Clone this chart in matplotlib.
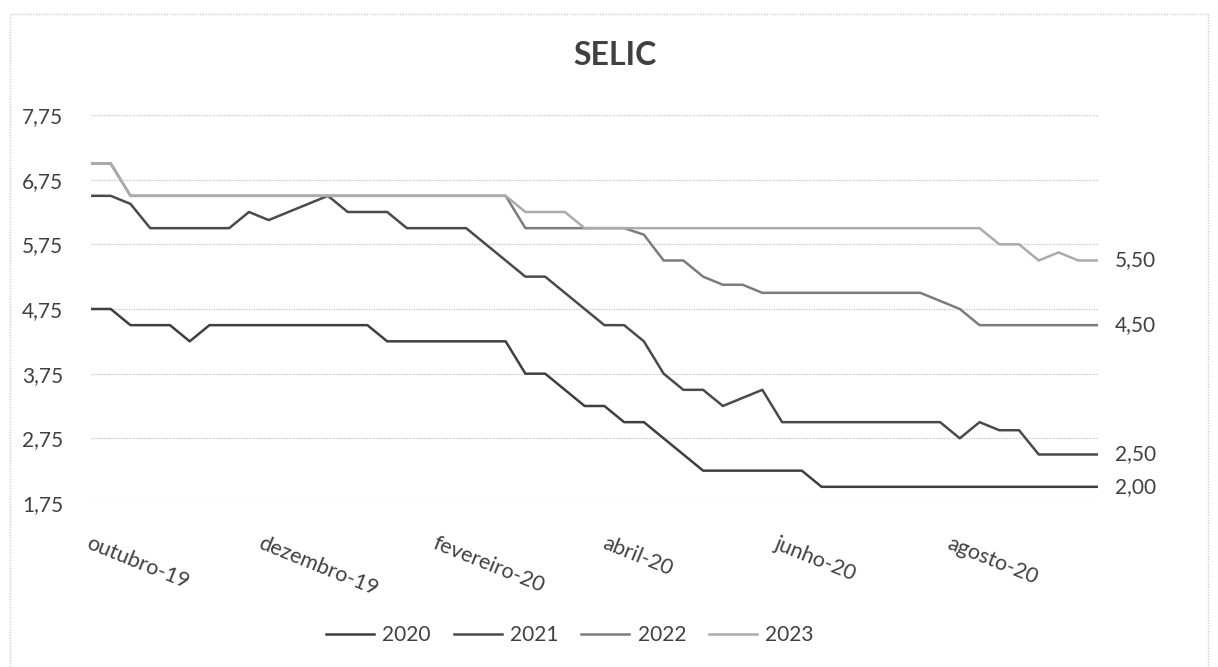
import matplotlib.pyplot as plt
import pandas as pd
from matplotlib.patches import Rectangle

# Expectativa da Selic ao fim de cada ano, coletada semanalmente
dates = pd.date_range('2019-10-04', '2020-09-25', freq='7D')

selic_2020 = [4.75, 4.75, 4.5, 4.5, 4.5, 4.25, 4.5, 4.5, 4.5, 4.5,
              4.5, 4.5, 4.5, 4.5, 4.5, 4.25, 4.25, 4.25, 4.25, 4.25,
              4.25, 4.25, 3.75, 3.75, 3.5, 3.25, 3.25, 3.0, 3.0, 2.75,
              2.5, 2.25, 2.25, 2.25, 2.25, 2.25, 2.25, 2.0, 2.0, 2.0,
              2.0, 2.0, 2.0, 2.0, 2.0, 2.0, 2.0, 2.0, 2.0, 2.0,
              2.0, 2.0]
selic_2021 = [6.5, 6.5, 6.375, 6.0, 6.0, 6.0, 6.0, 6.0, 6.25, 6.125,
              6.25, 6.375, 6.5, 6.25, 6.25, 6.25, 6.0, 6.0, 6.0, 6.0,
              5.75, 5.5, 5.25, 5.25, 5.0, 4.75, 4.5, 4.5, 4.25, 3.75,
              3.5, 3.5, 3.25, 3.375, 3.5, 3.0, 3.0, 3.0, 3.0, 3.0,
              3.0, 3.0, 3.0, 3.0, 2.75, 3.0, 2.875, 2.875, 2.5, 2.5,
              2.5, 2.5]
selic_2022 = [7.0, 7.0, 6.5, 6.5, 6.5, 6.5, 6.5, 6.5, 6.5, 6.5,
              6.5, 6.5, 6.5, 6.5, 6.5, 6.5, 6.5, 6.5, 6.5, 6.5,
              6.5, 6.5, 6.0, 6.0, 6.0, 6.0, 6.0, 6.0, 5.9, 5.5,
              5.5, 5.25, 5.125, 5.125, 5.0, 5.0, 5.0, 5.0, 5.0, 5.0,
              5.0, 5.0, 5.0, 4.875, 4.75, 4.5, 4.5, 4.5, 4.5, 4.5,
              4.5, 4.5]
selic_2023 = [7.0, 7.0, 6.5, 6.5, 6.5, 6.5, 6.5, 6.5, 6.5, 6.5,
              6.5, 6.5, 6.5, 6.5, 6.5, 6.5, 6.5, 6.5, 6.5, 6.5,
              6.5, 6.5, 6.25, 6.25, 6.25, 6.0, 6.0, 6.0, 6.0, 6.0,
              6.0, 6.0, 6.0, 6.0, 6.0, 6.0, 6.0, 6.0, 6.0, 6.0,
              6.0, 6.0, 6.0, 6.0, 6.0, 6.0, 5.75, 5.75, 5.5, 5.625,
              5.5, 5.5]

series = {'2020': selic_2020, '2021': selic_2021,
          '2022': selic_2022, '2023': selic_2023}
colors = {'2020': '#3f3f3f', '2021': '#4a4a4a',
          '2022': '#7c7c7c', '2023': '#ababab'}

y_ticks = [1.75, 2.75, 3.75, 4.75, 5.75, 6.75, 7.75]
month_names = ['janeiro', 'fevereiro', 'março', 'abril', 'maio', 'junho',
               'julho', 'agosto', 'setembro', 'outubro', 'novembro', 'dezembro']

plt.rcParams['font.family'] = ['Lato', 'DejaVu Sans']
text_color = '#404040'

fig = plt.figure(figsize=(12.18, 6.67), dpi=100)
ax = fig.add_axes([0.0747, 0.2459, 0.8268, 0.5817])

for year, vals in series.items():
    ax.plot(dates, vals, color=colors[year], lw=1.8, label=year)
    ax.text(dates[-1] + pd.Timedelta(days=6), vals[-1],
            f'{vals[-1]:.2f}'.replace('.', ','),
            fontsize=15, color=text_color, va='center', ha='left')

ax.set_ylim(1.75, 7.75)
ax.set_xlim(dates[0], dates[-1])
ax.set_yticks(y_ticks)
ax.set_yticklabels([f'{v:.2f}'.replace('.', ',') for v in y_ticks])

# rótulos a cada dois meses, a partir da primeira coleta
tick_dates = [dates[0] + pd.DateOffset(months=2 * k) for k in range(6)]
ax.set_xticks(tick_dates)
ax.set_xticklabels([f'{month_names[d.month - 1]}-{d.strftime("%y")}' for d in tick_dates])

ax.grid(axis='y', color='#c4c4c4', lw=0.9, ls=(0, (1, 1)))
ax.set_axisbelow(True)
for s in ax.spines.values():
    s.set_visible(False)
ax.tick_params(axis='both', length=0, labelsize=15, colors=text_color)
ax.tick_params(axis='y', pad=20)
ax.tick_params(axis='x', pad=22)
plt.setp(ax.get_xticklabels(), rotation=-22, ha='left', va='top',
         rotation_mode='anchor', fontsize=15.5)

fig.text(0.505, 0.917, 'SELIC', ha='center', va='center', fontsize=23,
         fontweight='bold', color='#404040')

fig.legend(loc='center', bbox_to_anchor=(0.468, 0.048), ncol=4, frameon=False,
           fontsize=15, handlelength=2.3, handletextpad=0.4, columnspacing=1.1,
           labelcolor=text_color)

# moldura da área do gráfico
fig.patches.append(Rectangle((10 / 1218, -0.05), 1198 / 1218, 1.04 - 7 / 667,
                             transform=fig.transFigure, fill=False,
                             ec='#cfcfcf', lw=1, ls=(0, (1, 1))))

fig.savefig('out.png', dpi=100)
